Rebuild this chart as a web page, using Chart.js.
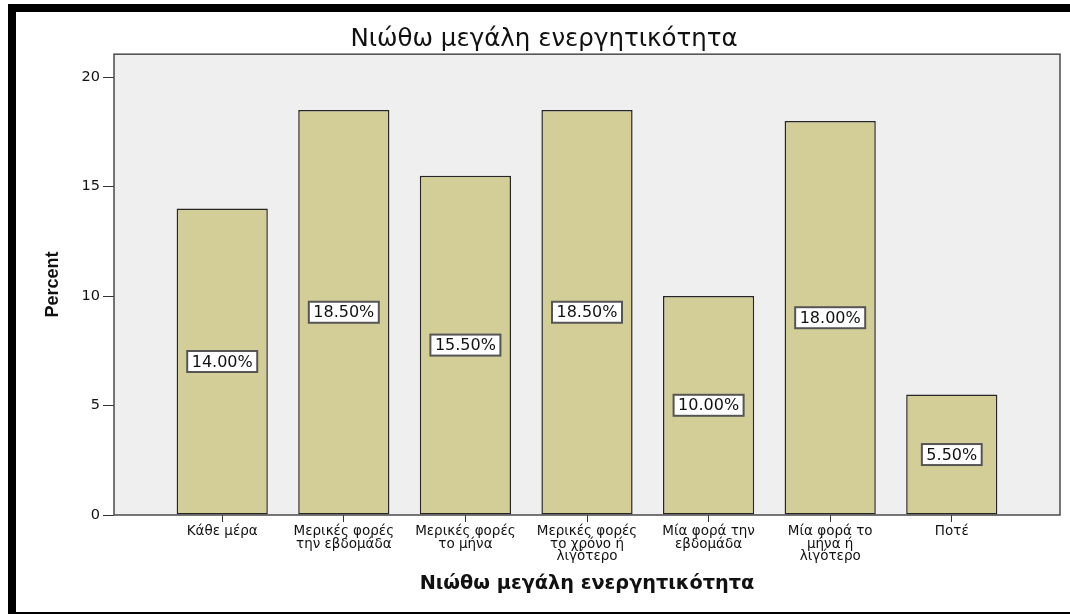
<!DOCTYPE html>
<html>
<head>
<meta charset="utf-8">
<title>Νιώθω μεγάλη ενεργητικότητα</title>
<script src="https://cdn.jsdelivr.net/npm/chart.js@4.4.1/dist/chart.umd.min.js"></script>
<style>
    html, body { margin: 0; padding: 0; background: #fff; overflow: hidden; }
    #wrap { position: relative; width: 1070px; height: 614px; }
    #chart { position: absolute; left: 0; top: 0; }
    /* heavy black frame around the output panel */
    #frame {
        position: absolute; left: 8px; top: 4px; width: 1100px; height: 616px;
        box-sizing: border-box; border: 8px solid #000; border-right: none;
        pointer-events: none;
    }
</style>
</head>
<body>
<div id="wrap">
    <canvas id="chart" width="1070" height="614"></canvas>
    <div id="frame"></div>
</div>
<script>
// Νιώθω μεγάλη ενεργητικότητα - percent per answer
const categories = [
    ["Κάθε μέρα"],
    ["Μερικές φορές", "την εβδομάδα"],
    ["Μερικές φορές", "το μήνα"],
    ["Μερικές φορές", "το χρόνο ή", "λιγότερο"],
    ["Μία φορά την", "εβδομάδα"],
    ["Μία φορά το", "μήνα ή", "λιγότερο"],
    ["Ποτέ"]
];
const percents = [14.0, 18.5, 15.5, 18.5, 10.0, 18.0, 5.5];
const yTicks = [0, 5, 10, 15, 20];

const titleText = "Νιώθω μεγάλη ενεργητικότητα";
const font = "'DejaVu Sans', Verdana, sans-serif";

Chart.defaults.font.family = font;
Chart.defaults.color = "#111";

// grey plot panel behind the bars
const panelBg = {
    id: "panelBg",
    beforeDraw(chart) {
        const { ctx, chartArea: a } = chart;
        ctx.save();
        ctx.fillStyle = "#efefef";
        ctx.fillRect(a.left, a.top, a.right - a.left, a.bottom - a.top);
        ctx.restore();
    },
    afterDatasetsDraw(chart) {
        const { ctx, chartArea: a } = chart;
        ctx.save();
        ctx.strokeStyle = "#4a4a4a";
        ctx.lineWidth = 1.5;
        ctx.strokeRect(a.left, a.top, a.right - a.left, a.bottom - a.top);
        ctx.restore();
    }
};

// boxed percent labels in the middle of each bar
const barLabels = {
    id: "barLabels",
    afterDraw(chart) {
        const { ctx } = chart;
        const meta = chart.getDatasetMeta(0);
        ctx.save();
        ctx.font = "16px " + font;
        ctx.textAlign = "center";
        ctx.textBaseline = "middle";
        meta.data.forEach((bar, i) => {
            const text = percents[i].toFixed(2) + "%";
            const w = ctx.measureText(text).width + 9;
            const h = 21;
            const cy = (bar.y + bar.base) / 2;
            ctx.fillStyle = "#fff";
            ctx.fillRect(bar.x - w / 2, cy - h / 2, w, h);
            ctx.strokeStyle = "#555";
            ctx.lineWidth = 2;
            ctx.strokeRect(bar.x - w / 2, cy - h / 2, w, h);
            ctx.fillStyle = "#111";
            ctx.fillText(text, bar.x, cy + 1);
        });
        ctx.restore();
    }
};

new Chart(document.getElementById("chart"), {
    type: "bar",
    data: {
        datasets: [{
            label: "Percent",
            data: percents.map((v, i) => ({ x: i + 1, y: v })),
            backgroundColor: "#d3ce98",
            borderColor: "#262626",
            borderWidth: 1.5,
            borderSkipped: false,
            barPercentage: 0.75,
            categoryPercentage: 1
        }]
    },
    options: {
        responsive: false,
        animation: false,
        devicePixelRatio: 1,
        layout: { padding: { left: 28, right: 10, top: 0, bottom: 0 } },
        plugins: {
            legend: { display: false },
            tooltip: { enabled: false },
            title: {
                display: true,
                text: titleText,
                color: "#111",
                font: { size: 24.5, weight: "normal", lineHeight: 1.15 },
                padding: { top: 26, bottom: 0 }
            }
        },
        scales: {
            x: {
                type: "linear",
                offset: false,
                min: 0.11,
                max: 7.89,
                afterBuildTicks: scale => {
                    scale.ticks = categories.map((c, i) => ({ value: i + 1 }));
                },
                afterFit: scale => { scale.height = 99; },
                ticks: {
                    autoSkip: false,
                    maxRotation: 0,
                    padding: 3,
                    color: "#111",
                    font: { size: 13.5, lineHeight: 0.94 },
                    callback: value => categories[value - 1]
                },
                grid: { offset: false, drawOnChartArea: false, tickLength: 7, color: "#333" },
                border: { display: false },
                title: {
                    display: true,
                    text: titleText,
                    color: "#111",
                    font: { size: 19.3, weight: "bold", lineHeight: 1.2 },
                    padding: { top: 0, bottom: 18 }
                }
            },
            y: {
                min: 0,
                max: 21.05,
                afterBuildTicks: scale => {
                    scale.ticks = yTicks.map(v => ({ value: v }));
                },
                afterFit: scale => { scale.width = 86; },
                ticks: {
                    padding: 3,
                    color: "#111",
                    font: { size: 14.5 }
                },
                grid: { drawOnChartArea: false, tickLength: 11, color: "#333" },
                border: { display: false },
                title: {
                    display: true,
                    text: "Percent",
                    color: "#111",
                    font: { family: "'Liberation Sans', Arial, sans-serif", size: 18, weight: "bold", lineHeight: 1.2 },
                    padding: { top: 14, bottom: 0 }
                }
            }
        }
    },
    plugins: [panelBg, barLabels]
});
</script>
</body>
</html>
